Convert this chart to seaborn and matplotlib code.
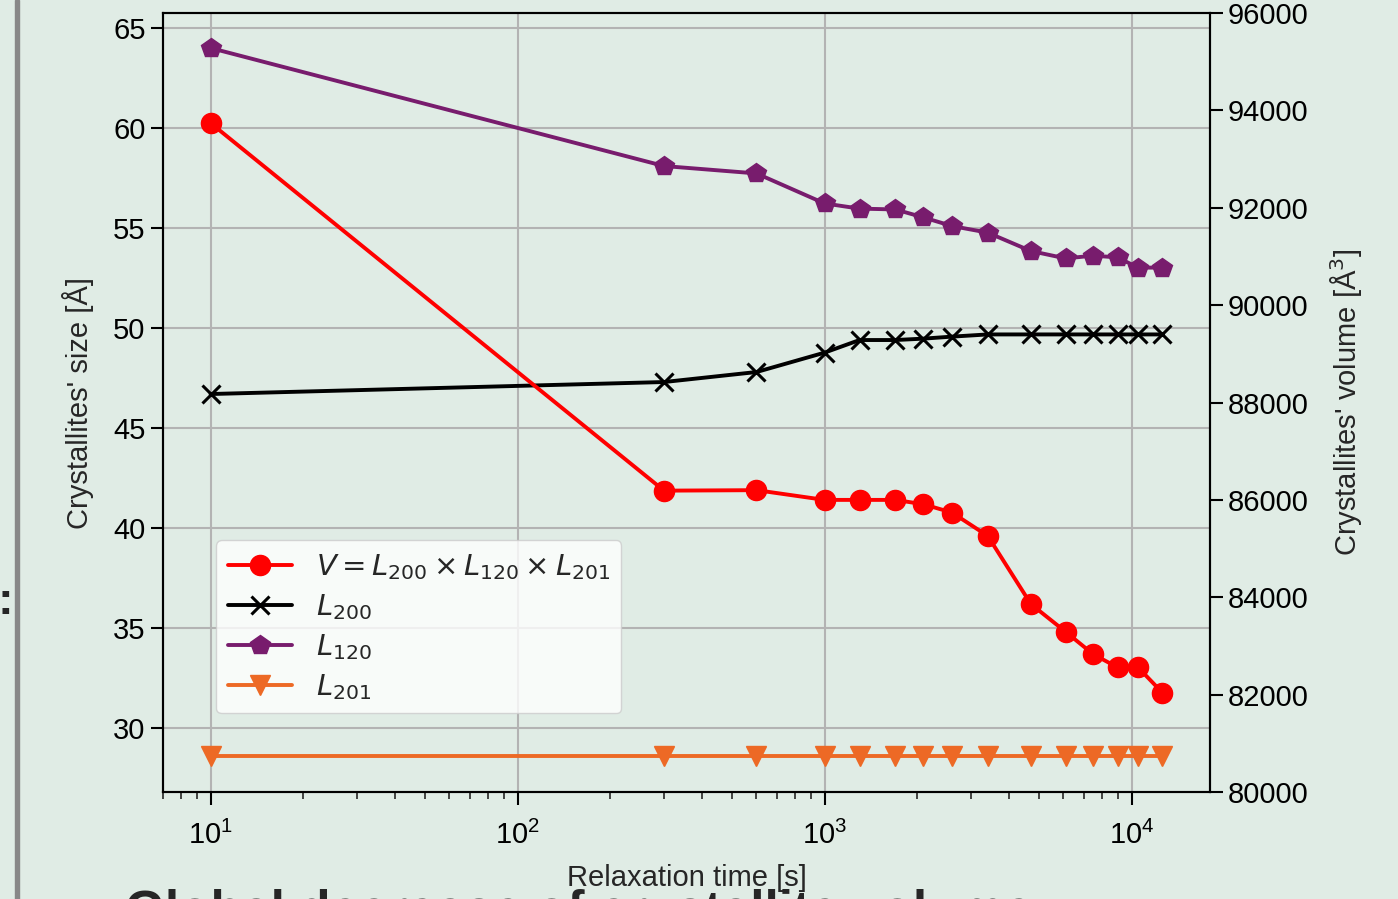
import numpy as np
import matplotlib
matplotlib.use("Agg")
import matplotlib.pyplot as plt
import seaborn as sns
from matplotlib.patches import Rectangle

# relaxation times [s]
time_s = [10, 300, 600, 1000, 1300, 1700, 2100, 2600, 3400, 4700, 6100, 7500, 9000, 10500, 12600]

# crystallite volume V [A^3] (right axis)
volume = [93740, 86190, 86200, 86000, 86000, 86000, 85910, 85740, 85260,
          83860, 83290, 82830, 82560, 82560, 82040]

# crystallite sizes [A] (left axis)
L200 = [46.7, 47.3, 47.8, 48.77, 49.4, 49.4, 49.47, 49.57, 49.68, 49.68, 49.68, 49.68, 49.68, 49.68, 49.68]
L120 = [64.0, 58.1, 57.73, 56.23, 55.97, 55.93, 55.53, 55.1, 54.77, 53.85, 53.48, 53.62, 53.53, 53.02, 53.02]
L201 = [28.6] * 15

bg = "#e0ece5"
purple = "#781c6d"
orange = "#ed6925"

sns.set_theme(style="ticks")
plt.rcParams["font.family"] = ["Liberation Sans", "DejaVu Sans"]
plt.rcParams["figure.facecolor"] = bg
plt.rcParams["axes.facecolor"] = bg

fig, ax = plt.subplots(figsize=(13.98, 8.99), dpi=100)
fig.subplots_adjust(left=0.1166, right=0.8655, bottom=0.119, top=0.9855)
ax2 = ax.twinx()
ax.set_xscale("log")

lw = 2.8
ms = 14.5
_ = sns.lineplot(x=time_s, y=L200, ax=ax, color="black", marker="x", markersize=13,
                 markeredgecolor="black", markeredgewidth=2.2, linewidth=lw, label=r"$L_{200}$")
_ = sns.lineplot(x=time_s, y=L120, ax=ax, color=purple, marker="p", markersize=ms,
                 markeredgecolor=purple, markeredgewidth=1, linewidth=lw, label=r"$L_{120}$")
_ = sns.lineplot(x=time_s, y=L201, ax=ax, color=orange, marker="v", markersize=ms,
                 markeredgecolor=orange, markeredgewidth=1, linewidth=lw, label=r"$L_{201}$")
_ = sns.lineplot(x=time_s, y=volume, ax=ax2, color="red", marker="o", markersize=ms,
                 markeredgecolor="red", markeredgewidth=1, linewidth=lw,
                 label=r"$V = L_{200} \times L_{120} \times L_{201}$")

ax.set_ylim(26.8, 65.75)
ax2.set_ylim(80000, 96000)
ax.set_yticks([30, 35, 40, 45, 50, 55, 60, 65])
ax2.set_yticks(np.arange(80000, 96001, 2000))

ax.grid(True, which="major", color="#b3b3b3", linewidth=1.5)
ax2.grid(False)
ax.set_axisbelow(True)

fs = 21
ax.set_xlabel("Relaxation time [s]", fontsize=fs, labelpad=10)
ax.set_ylabel("Crystallites' size [Å]", fontsize=fs, labelpad=14)
ax2.set_ylabel("Crystallites' volume [Å$^3$]", fontsize=fs, labelpad=14)
for a in (ax, ax2):
    a.tick_params(axis="both", which="major", labelsize=fs, direction="out", length=9, width=1.5, colors="black")
    a.tick_params(axis="both", which="minor", direction="out", length=5, width=1.2)
    for sp in a.spines.values():
        sp.set_visible(True)
        sp.set_color("black")
        sp.set_linewidth(1.5)
ax.tick_params(axis="x", which="major", pad=12)

h1, l1 = ax.get_legend_handles_labels()
h2, l2 = ax2.get_legend_handles_labels()
ax.get_legend().remove()
ax2.get_legend().remove()
leg = ax2.legend(h2 + h1, l2 + l1, loc="lower left", bbox_to_anchor=(0.051, 0.101),
                 borderaxespad=0, fontsize=fs, frameon=True, framealpha=0.8,
                 edgecolor="0.8", facecolor="white", fancybox=True, handlelength=2.2,
                 labelspacing=0.35)

# poster decorations around the screenshot
fig.add_artist(Rectangle((15 / 1398, 0), 4 / 1398, 1, transform=fig.transFigure,
                         color="#888888", zorder=0))
fig.text(-0.002, 0.33, ":", fontsize=34, fontweight="bold", ha="left", va="center")
fig.text(125 / 1398, 10 / 899, "Global decrease of crystallite volume", fontsize=37,
         fontweight="bold", ha="left", va="top")

fig.savefig("out.png", dpi=100, facecolor=bg)
